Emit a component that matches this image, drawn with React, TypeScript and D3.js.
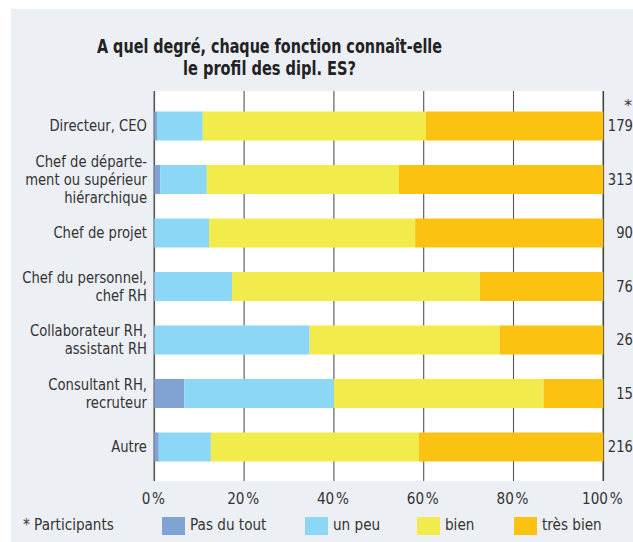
import React from "react";
import * as d3 from "d3";

// categories (each line of the label)
const categories = [
  ["Directeur, CEO"],
  ["Chef de départe-", "ment ou supérieur", "hiérarchique"],
  ["Chef de projet"],
  ["Chef du personnel,", "chef RH"],
  ["Collaborateur RH,", "assistant RH"],
  ["Consultant RH,", "recruteur"],
  ["Autre"],
];
const participants = [179, 313, 90, 76, 26, 15, 216];

// shares in %
const pasDuTout = [0.6, 1.3, 0, 0, 0, 6.7, 1.0];
const unPeu = [10.2, 10.4, 12.2, 17.3, 34.6, 33.3, 11.6];
const bien = [49.7, 42.8, 45.9, 55.2, 42.3, 46.7, 46.3];
const tresBien = [39.5, 45.5, 41.9, 27.5, 23.1, 13.3, 41.1];

const seriesNames = ["Pas du tout", "un peu", "bien", "très bien"];
const colors = ["#80a3d4", "#8cd7f5", "#f2eb4c", "#fbc212"];
const ticks = [0, 20, 40, 60, 80, 100];

const FONT = "'DejaVu Sans', sans-serif";
const TXT = "#333";
const fs = 15.5;
const SX = 0.85; // squeeze to mimic the condensed face

// horizontally squeezed text anchored at x
function Cond({ x, children }: { x: number; children: React.ReactNode }) {
  return <g transform={`translate(${x},0) scale(${SX},1) translate(${-x},0)`}>{children}</g>;
}

export default function App() {
  const rows = categories.map((c, i) => ({
    key: String(i),
    "Pas du tout": pasDuTout[i],
    "un peu": unPeu[i],
    bien: bien[i],
    "très bien": tresBien[i],
  }));
  const stack = d3.stack<any>().keys(seriesNames)(rows);

  const x = d3.scaleLinear().domain([0, 100]).range([154.3, 603.3]);
  const y = d3
    .scaleBand<string>()
    .domain(rows.map((r) => r.key))
    .range([99.25, 473.75])
    .paddingInner(0.458)
    .paddingOuter(0.229);
  const plotTop = 91;
  const plotBottom = 481;

  const legendX = [162, 305, 417, 514];

  return (
    <svg width={633} height={542} style={{ position: "absolute", left: 0, top: 0 }} fontFamily={FONT}>
      <rect x={11} y={9} width={622} height={533} fill="#eceff3" />
      <text x={97} y={53} fontSize={20} fontWeight="bold" fill="#222" textLength={345} lengthAdjust="spacingAndGlyphs">
        A quel degré, chaque fonction connaît-elle
      </text>
      <text x={183} y={75} fontSize={20} fontWeight="bold" fill="#222" textLength={173} lengthAdjust="spacingAndGlyphs">
        le profil des dipl. ES?
      </text>
      <rect x={x(0)} y={plotTop} width={x(100) - x(0)} height={plotBottom - plotTop} fill="#fff" />
      {ticks.map((t) => (
        <line
          key={t}
          x1={x(t)}
          x2={x(t)}
          y1={plotTop}
          y2={plotBottom}
          stroke={t === 100 ? "#444" : "#555"}
          strokeWidth={t === 100 || t === 0 ? 1.6 : 1.1}
        />
      ))}
      {stack.map((s, si) =>
        s.map((d, i) => (
          <rect
            key={si + "-" + i}
            x={x(d[0])}
            width={Math.max(0, x(d[1]) - x(d[0]))}
            y={y(rows[i].key)}
            height={y.bandwidth()}
            fill={colors[si]}
          />
        ))
      )}
      {ticks.map((t) => (
        <Cond key={"t" + t} x={x(t) - 1}>
          <text x={x(t) - 1} y={504} textAnchor="middle" fontSize={16} fill={TXT}>
            {t}
            <tspan dx={2}>%</tspan>
          </text>
        </Cond>
      ))}
      {categories.map((lines, i) => {
        const cy = (y(String(i)) as number) + y.bandwidth() / 2;
        const lh = 18;
        const y0 = cy - ((lines.length - 1) * lh) / 2 + 5.5;
        return (
          <Cond key={"c" + i} x={147}>
            <text textAnchor="end" fontSize={fs} fill={TXT}>
              {lines.map((l, j) => (
                <tspan key={j} x={147} y={y0 + j * lh}>
                  {l}
                </tspan>
              ))}
            </text>
          </Cond>
        );
      })}
      <text x={628} y={111} textAnchor="middle" fontSize={fs} fill={TXT}>*</text>
      {participants.map((p, i) => (
        <Cond key={"p" + i} x={633}>
          <text
            x={633}
            y={(y(String(i)) as number) + y.bandwidth() / 2 + 5.5}
            textAnchor="end"
            fontSize={fs}
            fill={TXT}
          >
            {p}
          </text>
        </Cond>
      ))}
      <Cond x={23}>
        <text x={23} y={530} fontSize={16} fill={TXT}>* Participants</text>
      </Cond>
      {seriesNames.map((n, i) => (
        <g key={n}>
          <rect x={legendX[i]} y={517} width={23} height={18} fill={colors[i]} />
          <Cond x={legendX[i] + 28}>
            <text x={legendX[i] + 28} y={530} fontSize={16} fill={TXT}>
              {n}
            </text>
          </Cond>
        </g>
      ))}
    </svg>
  );
}
